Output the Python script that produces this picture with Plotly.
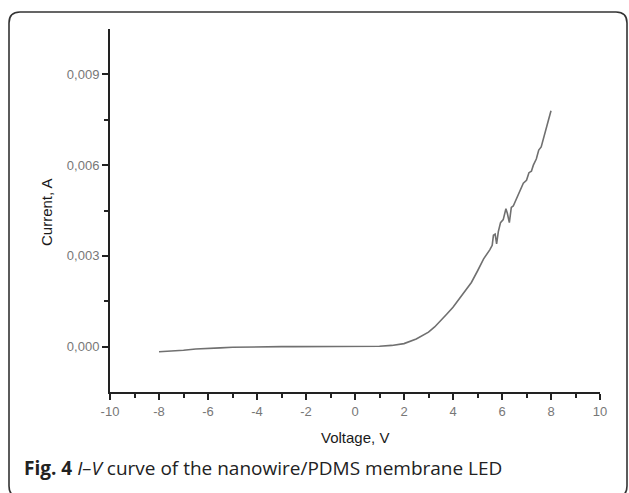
import plotly.graph_objects as go

# ---- data ----
voltage = [-8, -7.5, -7, -6.5, -6, -5.5, -5, -4.5, -4, -3.5, -3, -2.5, -2, -1.5, -1, -0.5,
           0, 0.5, 1, 1.5, 2, 2.5, 3, 3.25, 3.5, 3.75, 4, 4.25, 4.5, 4.75, 5, 5.25, 5.5,
           5.6, 5.65, 5.72, 5.78, 5.85, 5.94, 6.05, 6.16, 6.22, 6.3, 6.38, 6.46, 6.6,
           6.75, 6.87, 7.0, 7.1, 7.2, 7.28, 7.4, 7.5, 7.6, 7.69, 7.8, 7.9, 8.0]
current = [-0.00017, -0.00015, -0.00012, -0.00008, -0.00005, -0.00004, -0.00002, -0.00001,
           0.0, 0.0, 0.0, 0.0, 0.0, 0.0, 0.0, 0.0,
           0.0, 0.0, 0.00001, 0.00004, 0.0001, 0.00025, 0.00048, 0.00065, 0.00085, 0.00108,
           0.0013, 0.00158, 0.00185, 0.00212, 0.0025, 0.0029, 0.0032,
           0.00335, 0.00368, 0.00372, 0.0034, 0.0038, 0.0041, 0.0042, 0.00456, 0.0044,
           0.0041, 0.0046, 0.00465, 0.0049, 0.0052, 0.0054, 0.0055, 0.00575, 0.0058,
           0.006, 0.0062, 0.0065, 0.0066, 0.0069, 0.0072, 0.0075, 0.0078]

x_ticks = [-10, -8, -6, -4, -2, 0, 2, 4, 6, 8, 10]
x_ticktext = ["-10", "-8", "-6", "-4", "-2", "0", "2", "4", "6", "8", "10"]
y_ticks = [0.0, 0.003, 0.006, 0.009]
y_ticktext = ["0,000", "0,003", "0,006", "0,009"]
x_title = "Voltage, V"
y_title = "Current, A"
caption = "<b>Fig. 4</b> <i>I–V</i> curve of the nanowire/PDMS membrane LED"

# ---- layout geometry (pixels) ----
W, H = 629, 493
L, R, T, B = 110, 600, 29, 392
pw, ph = R - L, B - T


def px(x):
    return (x - L) / pw


def py(y):
    return (B - y) / ph


fig = go.Figure()
fig.add_trace(go.Scatter(x=voltage, y=current, mode="lines",
                         line=dict(color="#707070", width=1.6), hoverinfo="skip"))

axis_font = dict(family="Arial, Liberation Sans, sans-serif", size=13, color="#777777")

fig.update_xaxes(range=[-10, 10], tickvals=x_ticks, ticktext=x_ticktext,
                 showline=True, linecolor="#222222", linewidth=2, mirror=False,
                 ticks="outside", ticklen=6, tickwidth=1.8, tickcolor="#222222",
                 showgrid=False, zeroline=False, tickfont=axis_font,
                 minor=dict(tickvals=[-9, -7, -5, -3, -1, 1, 3, 5, 7, 9], ticks="outside",
                            ticklen=4, tickwidth=1.6, tickcolor="#222222", showgrid=False))
fig.update_yaxes(range=[-0.0015, 0.0105], tickvals=y_ticks, ticktext=y_ticktext,
                 showline=True, linecolor="#222222", linewidth=2, mirror=False,
                 ticks="outside", ticklen=6, tickwidth=1.8, tickcolor="#222222",
                 showgrid=False, zeroline=False, tickfont=axis_font,
                 minor=dict(tickvals=[0.0015, 0.0045, 0.0075], ticks="outside",
                            ticklen=4, tickwidth=1.6, tickcolor="#222222", showgrid=False))

# rounded border box
bl, bt, br, bb, r = 9, 12, 627, 497, 11
path = (f"M {px(bl)},{py(bt + r)} Q {px(bl)},{py(bt)} {px(bl + r)},{py(bt)} "
        f"L {px(br - r)},{py(bt)} Q {px(br)},{py(bt)} {px(br)},{py(bt + r)} "
        f"L {px(br)},{py(bb - r)} Q {px(br)},{py(bb)} {px(br - r)},{py(bb)} "
        f"L {px(bl + r)},{py(bb)} Q {px(bl)},{py(bb)} {px(bl)},{py(bb - r)} Z")
fig.add_shape(type="path", path=path, xref="paper", yref="paper",
              line=dict(color="#333333", width=1.6), layer="below")

title_font = dict(family="Arial, Liberation Sans, sans-serif", size=15, color="#1a1a1a")
fig.add_annotation(text=y_title, x=px(46), y=py(212), xref="paper", yref="paper",
                   textangle=-90, showarrow=False, font=title_font,
                   xanchor="center", yanchor="middle")
fig.add_annotation(text=x_title, x=px(355), y=py(437), xref="paper", yref="paper",
                   showarrow=False, font=title_font, xanchor="center", yanchor="middle")
fig.add_annotation(text=caption, x=px(22), y=py(468), xref="paper", yref="paper",
                   showarrow=False, xanchor="left", yanchor="middle",
                   font=dict(family="Open Sans, Noto Sans, sans-serif", size=19, color="#222222"))

fig.update_layout(width=W, height=H, margin=dict(l=L, r=W - R, t=T, b=H - B),
                  paper_bgcolor="white", plot_bgcolor="white", showlegend=False)

fig.write_html("out.html", config={"displayModeBar": False},
               post_script="document.body.style.margin='0';document.body.style.overflow='hidden';")
